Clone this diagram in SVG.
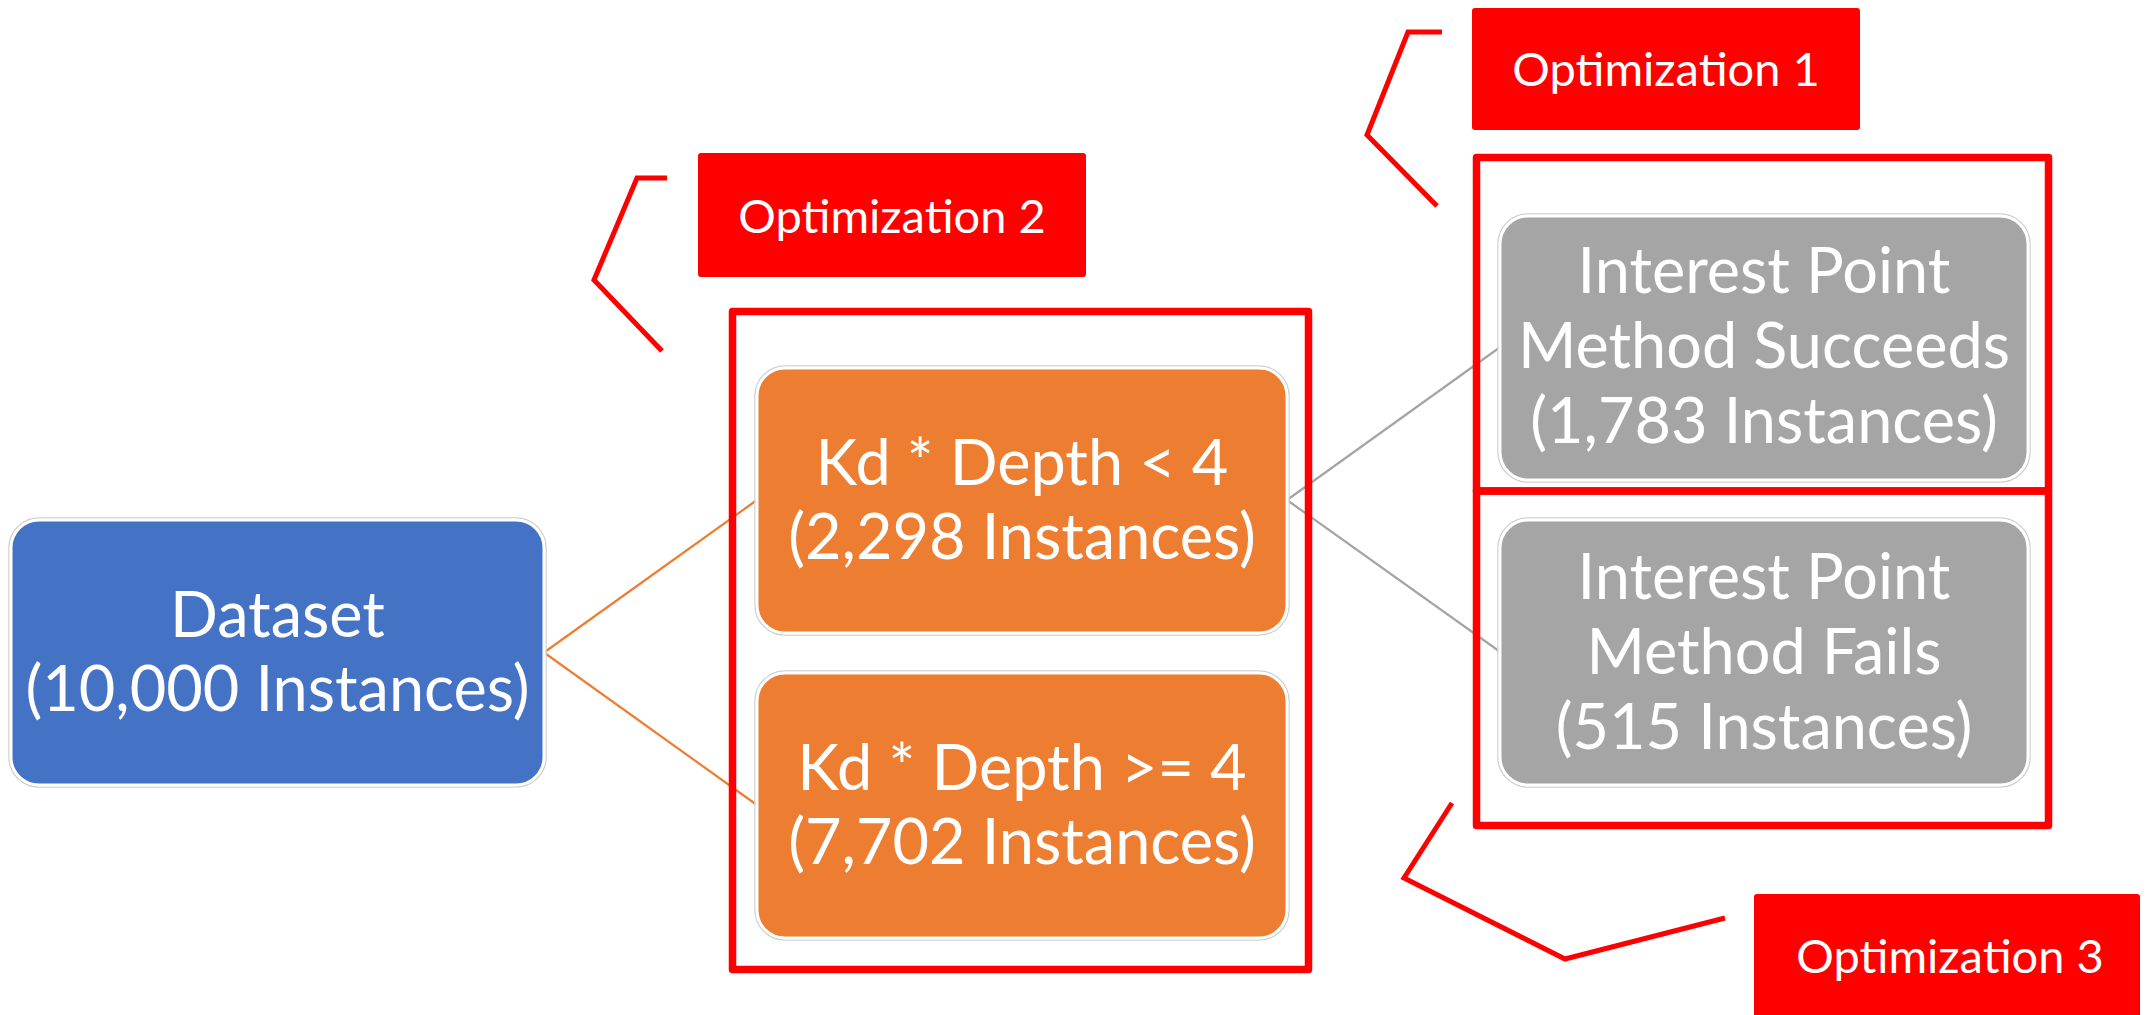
<svg xmlns="http://www.w3.org/2000/svg" width="2147" height="1015" viewBox="0 0 2147 1015">
  <style>
    .halo { fill: none; stroke: #d0d0d0; stroke-width: 1.5; }
    .blue { fill: #4472C4; stroke: #ffffff; stroke-width: 3; }
    .orange { fill: #ED7D31; stroke: #ffffff; stroke-width: 3; }
    .gray { fill: #A5A5A5; stroke: #ffffff; stroke-width: 3; }
    .node-text { font-family: Lato, "Liberation Sans", sans-serif; font-size: 63px; fill: #ffffff; text-anchor: middle; }
    .tag { fill: #FF0000; }
    .tag-text { font-family: Lato, "Liberation Sans", sans-serif; font-size: 47px; fill: #ffffff; text-anchor: middle; }
    .frame { fill: none; stroke: #FF0000; stroke-width: 7.5; stroke-linejoin: round; }
    .bracket { fill: none; stroke: #FF0000; stroke-width: 5; stroke-linejoin: miter; }
    .edge-orange { stroke: #ED7D31; stroke-width: 2.2; fill: none; }
    .edge-gray { stroke: #A5A5A5; stroke-width: 2.2; fill: none; }
  </style>

  <rect width="2147" height="1015" fill="#ffffff"/>

  <!-- tree connectors -->
  <g id="connectors">
    <line class="edge-orange" x1="544" y1="652.5" x2="757" y2="500"/>
    <line class="edge-orange" x1="544" y1="652.5" x2="757" y2="805"/>
    <line class="edge-gray" x1="1287" y1="500" x2="1501" y2="346.5"/>
    <line class="edge-gray" x1="1287" y1="500" x2="1501" y2="652.5"/>
  </g>

  <!-- root -->
  <g id="dataset">
    <rect class="halo" x="9" y="518" width="537" height="269" rx="30"/>
    <rect class="blue" x="11" y="520" width="533" height="265" rx="28"/>
    <text class="node-text" x="277.5" y="637">Dataset</text>
    <text class="node-text" x="277.5" y="711">(10,000 Instances)</text>
  </g>

  <!-- split on Kd * Depth -->
  <g id="kd-low">
    <rect class="halo" x="755" y="366" width="534" height="269" rx="30"/>
    <rect class="orange" x="757" y="368" width="530" height="265" rx="28"/>
    <text class="node-text" x="1022" y="484.5">Kd * Depth &lt; 4</text>
    <text class="node-text" x="1022" y="558.5">(2,298 Instances)</text>
  </g>
  <g id="kd-high">
    <rect class="halo" x="755" y="671" width="534" height="269" rx="30"/>
    <rect class="orange" x="757" y="673" width="530" height="265" rx="28"/>
    <text class="node-text" x="1022" y="789.5">Kd * Depth &gt;= 4</text>
    <text class="node-text" x="1022" y="863.5">(7,702 Instances)</text>
  </g>

  <!-- interest point outcomes -->
  <g id="ip-succeeds">
    <rect class="halo" x="1498" y="214" width="532" height="268" rx="30"/>
    <rect class="gray" x="1500" y="216" width="528" height="264" rx="28"/>
    <text class="node-text" x="1764" y="293">Interest Point</text>
    <text class="node-text" x="1764" y="368">Method Succeeds</text>
    <text class="node-text" x="1764" y="443">(1,783 Instances)</text>
  </g>
  <g id="ip-fails">
    <rect class="halo" x="1498" y="518" width="532" height="269" rx="30"/>
    <rect class="gray" x="1500" y="520" width="528" height="265" rx="28"/>
    <text class="node-text" x="1764" y="599">Interest Point</text>
    <text class="node-text" x="1764" y="674">Method Fails</text>
    <text class="node-text" x="1764" y="749">(515 Instances)</text>
  </g>

  <!-- optimization frames -->
  <g id="frame-opt2">
    <rect class="frame" x="732.5" y="311.5" width="576" height="658"/>
  </g>
  <g id="frame-opt1">
    <rect class="frame" x="1476.5" y="157.5" width="572" height="333.5"/>
  </g>
  <g id="frame-opt3">
    <rect class="frame" x="1476.5" y="491" width="572" height="334.5"/>
  </g>

  <!-- optimization callouts -->
  <g id="opt1">
    <polyline class="bracket" points="1442,32 1408,32 1367,135 1437,206"/>
    <rect class="tag" x="1472" y="8" width="388" height="122" rx="3"/>
    <text class="tag-text" x="1666" y="86">Optimization 1</text>
  </g>
  <g id="opt2">
    <polyline class="bracket" points="667,178 637,178 594,280 662,351"/>
    <rect class="tag" x="698" y="153" width="388" height="124" rx="3"/>
    <text class="tag-text" x="892" y="233">Optimization 2</text>
  </g>
  <g id="opt3">
    <polyline class="bracket" points="1452,803 1404,878 1565,959 1725,918"/>
    <rect class="tag" x="1754" y="894" width="386" height="124" rx="3"/>
    <text class="tag-text" x="1950" y="973">Optimization 3</text>
  </g>
</svg>
